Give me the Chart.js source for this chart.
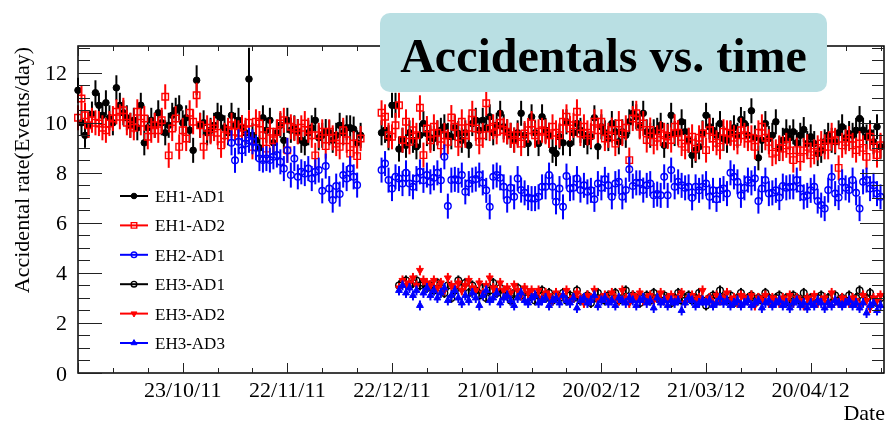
<!DOCTYPE html>
<html>
<head>
<meta charset="utf-8">
<script src="https://cdn.jsdelivr.net/npm/chart.js"></script>
<style>
  html, body { margin: 0; padding: 0; background: #fff; }
  canvas { display: block; }
</style>
</head>
<body>
<canvas id="accChart" width="890" height="423"></canvas>
<script>
// x values are days counted from 23/09/2011 (left edge of the axis)
const seriesNames = ["EH1-AD1", "EH1-AD2", "EH2-AD1", "EH3-AD1", "EH3-AD2", "EH3-AD3"];
const seriesStart = [0, 0, 44, 92, 92, 92];
const seriesErr = [0.5, 0.5, 0.5, 0.2, 0.2, 0.2];
const eh1Ad1ExtraErr = { 34: 0.6, 49: 1.25 };

const xTickDays = [30, 60, 90, 120, 150, 180, 210];
const xTickLabels = ["23/10/11", "22/11/11", "22/12/11", "21/01/12", "20/02/12", "21/03/12", "20/04/12"];
const yTickValues = [0, 2, 4, 6, 8, 10, 12];

const eh1Ad1 = [
  11.3, 10.0, 9.5, 9.9, 10.35, 11.2, 10.7, 10.3, 10.8, 10.2,
  10.0, 11.4, 10.7, 10.4, 10.2, 9.9, 10.1, 9.8, 10.7, 9.2,
  9.8, 10.1, 9.9, 10.4, 10.0, 9.6, 9.9, 10.3, 10.5, 10.6,
  10.0, 10.2, 9.7, 8.9, 11.7, 9.9, 10.0, 9.6, 9.7, 9.9,
  10.3, 10.2, 9.8, 9.6, 10.3, 9.9, 10.1, 9.8, 9.6, 11.75,
  9.5, 9.3, 9.0, 10.2, 9.7, 10.1, 9.2, 9.6, 9.9, 9.3,
  10.1, 9.7, 9.8, 9.65, 9.3, 9.2, 9.6, 9.8, 10.1, 9.4,
  9.5, 9.65, 9.6, 9.3, 9.5, 9.9, 9.6, 9.8, 9.8, 9.75,
  9.2, 9.5, null, null, null, null, null, 9.6, 9.7, 9.4,
  10.7, 10.7, 8.95, 9.3, 9.1, 9.6, 9.3, 9.04, 9.5, 9.97,
  9.57, 9.4, 9.37, 9.6, 9.7, 9.84, 9.5, 9.44, 9.8, 9.57,
  9.3, 9.6, 9.1, 9.97, 10.1, 9.7, 10.1, 9.8, 10.24, 9.6,
  9.9, 10.38, 9.84, 9.64, 9.5, 9.31, 9.6, 10.38, 9.5, 9.17,
  10.24, 9.6, 9.17, 10.24, 9.7, 9.5, 8.9, 8.77, 9.44, 9.2,
  10.04, 9.17, 9.6, 9.97, 9.7, 9.5, 9.24, 9.44, 10.2, 9.04,
  9.84, 9.6, 9.37, 9.97, 9.64, 9.24, 9.64, 9.5, 10.04, 10.38,
  10.24, 9.9, 10.38, 9.64, 9.5, 9.64, 9.7, 9.9, 9.1, 9.5,
  10.3, 9.57, 9.6, 10.04, 9.64, 9.3, 8.7, 8.9, 9.04, 9.6,
  10.3, 9.84, 9.7, 9.5, 9.97, 9.37, 9.3, 9.6, 9.8, 9.5,
  10.13, 9.97, 9.5, 10.48, 9.4, 8.6, 9.3, 9.97, 9.37, 9.5,
  10.04, 8.97, 9.3, 9.64, 9.4, 9.64, 9.2, 9.5, 9.73, 9.17,
  9.44, 9.17, 8.77, 8.9, 9.24, 9.5, 9.3, 9.24, 9.6, 9.84,
  9.4, 9.57, 9.5, 9.7, 10.17, 9.71, 9.44, 9.6, 9.24, 9.84,
  9.04
];

const eh1Ad2 = [
  10.2, 10.97, 10.3, 9.9, 10.1, 10.0, 9.97, 9.8, 9.7, 9.97,
  10.17, 10.44, 10.24, 10.5, 10.0, 9.9, 9.8, 10.44, 10.0, 10.17,
  9.44, 9.7, 9.9, 9.7, 10.1, 11.04, 8.7, 9.77, 10.17, 9.04,
  9.7, 9.37, 10.4, 10.04, 11.1, 9.9, 9.04, 9.8, 9.64, 9.77,
  9.6, 9.1, 9.5, 9.7, 9.9, 9.64, 9.6, 9.8, 9.7, 10.0,
  9.04, 10.04, 9.97, 9.5, 8.97, 9.64, 9.3, 9.64, 9.97, 10.1,
  8.9, 9.84, 9.77, 9.64, 9.8, 9.97, 9.7, 9.5, 8.7, 9.5,
  9.64, 9.07, 9.64, 9.4, 9.17, 9.04, 9.7, 9.3, 8.77, 9.17,
  8.67, 9.37, null, null, null, null, null, 10.4, 10.24, 9.5,
  9.44, 9.9, 10.7, 9.31, 10.04, 9.24, 9.7, 9.5, 10.6, 8.71,
  9.77, 9.3, 9.84, 9.6, 9.1, 9.5, 9.24, 10.21, 9.84, 9.17,
  10.04, 9.5, 9.8, 10.38, 9.77, 9.24, 9.5, 10.78, 9.77, 9.84,
  9.64, 10.0, 9.71, 9.64, 9.5, 9.31, 9.5, 9.17, 9.57, 9.7,
  9.97, 9.5, 9.64, 9.7, 9.64, 9.5, 9.84, 9.6, 9.5, 10.04,
  10.24, 9.77, 9.9, 10.44, 9.57, 9.84, 9.6, 9.5, 10.04, 9.7,
  10.04, 9.37, 9.5, 9.71, 9.17, 9.97, 9.57, 9.8, 8.51, 10.17,
  10.38, 9.84, 9.97, 9.31, 9.71, 9.24, 9.4, 9.57, 9.5, 9.45,
  9.31, 9.84, 9.6, 9.17, 9.04, 9.3, 9.44, 8.97, 9.4, 9.57,
  8.91, 9.7, 9.37, 9.2, 9.04, 9.64, 9.6, 9.57, 9.4, 9.24,
  9.7, 9.5, 9.37, 9.4, 9.04, 9.6, 9.84, 9.4, 9.24, 8.77,
  8.84, 9.0, 8.97, 9.1, 8.9, 8.51, 8.91, 8.58, 8.9, 9.04,
  8.71, 8.84, 9.0, 9.17, 9.04, 9.04, 9.5, 9.3, 8.2, 9.1,
  9.24, 9.37, 9.1, 8.91, 9.17, 9.0, 8.64, 9.44, 9.04, 8.71,
  9.1
];

const eh2Ad1 = [
  9.2, 8.5, 9.24, 8.9, 9.17, 9.3, 9.24, 9.0, 8.57, 8.51,
  8.57, 8.51, 8.64, 8.71, 8.44, 8.17, 8.9, 7.91, 8.57, 7.84,
  8.04, 7.97, 8.17, 7.77, 8.04, 8.11, 7.28, 8.27, 7.37, 6.91,
  7.47, 7.15, 7.91, 7.77, 8.17, 7.84, 7.51, null, null, null,
  null, null, null, 8.11, 8.37, 7.71, 7.37, 7.84, 7.77, 7.57,
  8.0, 7.57, 7.44, 7.77, 8.04, 7.7, 7.91, 7.64, 7.8, 8.0,
  7.7, 8.64, 6.67, 7.71, 7.74, 7.7, 7.91, 7.24, 7.57, 7.71,
  7.75, 7.91, 7.6, 7.3, 6.64, 7.84, 7.91, 7.8, 7.44, 6.91,
  7.4, 7.04, 7.77, 7.31, 7.2, 7.01, 6.97, 6.97, 7.04, 7.44,
  7.44, 7.91, 7.44, 6.84, 7.37, 6.64, 7.87, 7.37, 7.4, 7.77,
  7.31, 7.5, 7.24, 7.3, 6.94, 7.57, 7.4, 7.74, 7.5, 7.04,
  7.57, 7.64, 7.04, 7.31, 8.14, 7.47, 7.6, 7.6, 7.31, 7.5,
  7.57, 7.1, 7.15, 7.1, 7.84, 7.1, 8.11, 7.44, 7.64, 7.5,
  7.4, 7.44, 7.0, 7.44, 7.3, 7.44, 7.57, 7.04, 7.3, 6.94,
  7.3, 7.37, 7.17, 8.0, 7.84, 7.64, 7.1, 7.4, 7.71, 7.6,
  7.77, 6.87, 7.37, 7.71, 7.17, 7.2, 7.3, 7.01, 7.47, 7.4,
  7.44, 7.44, 7.71, 7.37, 7.04, 7.1, 7.3, 7.44, 6.87, 6.71,
  6.57, 7.31, 7.84, 7.17, 7.01, 7.64, 7.4, 7.31, 7.71, 7.2,
  6.57, 7.64, 7.71, 7.37, 7.5, 7.17, 7.04
];

const eh3Ad1 = [
  3.5, 3.6, 3.7, 3.5, 3.6, 3.7, 3.5, 3.6, 3.4,
  3.5, 3.3, 3.6, 3.4, 3.2, 3.5, 3.0, 3.3, 3.7, 3.4,
  3.6, 3.2, 3.5, 3.3, 3.1, 3.4, 3.0, 3.3, 3.6, 3.2,
  3.4, 3.1, 3.3, 2.9, 3.2, 3.4, 3.1, 3.3, 3.0, 3.2,
  2.9, 3.1, 3.3, 3.0, 3.2, 2.9, 3.1, 3.0, 3.2, 2.9,
  3.1, 3.0, 3.3, 2.9, 3.0, 3.1, 2.8, 3.0, 3.2, 3.0,
  2.9, 3.1, 3.0, 3.2, 2.9, 3.0, 3.3, 2.9, 3.1, 3.0,
  2.8, 3.0, 3.1, 2.9, 3.2, 3.0, 2.9, 3.1, 3.0, 2.8,
  3.0, 3.2, 2.9, 3.0, 3.1, 2.9, 3.0, 3.2, 2.9, 2.7,
  3.0, 3.1, 2.9, 3.3, 3.0, 2.9, 3.1, 2.8, 3.0, 3.2,
  2.9, 3.0, 3.1, 2.8, 3.0, 2.9, 3.2, 3.0, 2.8, 3.0,
  3.1, 2.9, 3.0, 2.8, 3.1, 3.0, 2.9, 3.2, 2.9, 3.0,
  2.8, 3.0, 3.1, 2.9, 3.0, 2.8, 3.1, 2.9, 3.0, 2.9,
  3.1, 2.8, 3.0, 3.3, 2.9, 3.0, 3.2, 2.9, 2.8, 3.0
];

const eh3Ad2 = [
  3.4, 3.7, 3.5, 3.6, 3.8, 3.5, 4.1, 3.7, 3.6,
  3.5, 3.7, 3.4, 3.6, 3.3, 3.8, 3.5, 3.4, 3.6, 3.3,
  3.5, 3.7, 3.4, 3.3, 3.6, 3.2, 3.5, 3.8, 3.4, 3.3,
  3.6, 3.3, 3.4, 3.2, 3.5, 3.3, 3.1, 3.4, 3.2, 3.3,
  3.1, 3.3, 3.0, 3.2, 3.1, 2.9, 3.2, 3.0, 3.1, 3.3,
  2.9, 3.0, 3.2, 3.0, 2.8, 3.1, 3.0, 3.3, 2.9, 3.0,
  3.1, 2.9, 3.2, 3.0, 2.9, 3.3, 3.0, 2.8, 3.1, 3.0,
  3.2, 2.9, 3.0, 3.1, 2.9, 3.0, 3.2, 2.9, 3.0, 3.1,
  2.9, 3.0, 3.2, 2.8, 3.0, 3.1, 2.9, 3.0, 3.3, 2.9,
  3.0, 2.8, 3.1, 2.9, 3.0, 3.2, 2.9, 3.0, 2.8, 3.1,
  3.0, 2.9, 3.1, 2.7, 3.0, 2.9, 3.1, 2.8, 3.0, 2.9,
  2.8, 3.0, 2.9, 3.1, 2.8, 3.0, 2.9, 2.7, 3.0, 2.9,
  3.1, 2.8, 2.9, 3.0, 2.8, 3.2, 2.9, 2.8, 3.0, 2.9,
  2.8, 3.0, 2.9, 2.7, 3.1, 2.9, 2.6, 3.0, 2.9, 3.1
];

const eh3Ad3 = [
  3.3, 3.5, 3.2, 3.4, 3.1, 3.3, 2.7, 3.2, 3.4,
  3.1, 3.3, 3.0, 3.2, 3.4, 2.9, 3.1, 3.3, 3.0, 2.8,
  3.1, 2.9, 3.2, 3.0, 2.7, 3.1, 3.3, 2.9, 3.0, 3.2,
  2.8, 3.0, 3.1, 2.9, 2.7, 3.0, 3.2, 2.9, 2.8, 3.0,
  3.1, 2.8, 2.9, 3.0, 2.7, 2.9, 3.0, 2.8, 3.1, 2.9,
  2.8, 3.0, 2.6, 2.9, 3.0, 2.8, 2.9, 3.1, 2.7, 2.9,
  3.0, 2.8, 2.9, 2.7, 3.0, 2.9, 2.8, 3.0, 2.9, 2.7,
  2.9, 3.0, 2.8, 2.9, 2.6, 3.0, 2.8, 2.9, 2.7, 2.9,
  2.8, 2.9, 2.5, 2.8, 3.0, 2.9, 2.7, 2.8, 2.9, 2.8,
  2.9, 2.7, 2.8, 3.0, 2.8, 2.9, 2.7, 2.8, 2.9, 2.7,
  2.8, 2.9, 2.7, 2.8, 2.9, 2.6, 2.8, 2.9, 2.7, 2.8,
  2.9, 2.7, 2.8, 2.6, 2.8, 2.9, 2.7, 2.8, 2.6, 2.8,
  2.7, 2.9, 2.8, 2.6, 2.8, 2.7, 2.9, 2.8, 2.7, 2.8,
  2.9, 2.7, 2.8, 2.6, 2.8, 2.4, 2.7, 2.8, 2.5, 2.7
];

const seriesValues = [eh1Ad1, eh1Ad2, eh2Ad1, eh3Ad1, eh3Ad2, eh3Ad3];
const seriesColor = ["#000000", "#ff0000", "#0000ff", "#000000", "#ff0000", "#0000ff"];
// lower order is drawn on top (later series over earlier ones)
const seriesOrder = [5, 4, 3, 2, 1, 0];
const seriesMarker = [
  { style: "circle", radius: 3.3, filled: true, rotation: 0 },
  { style: "rect", radius: 4.6, filled: false, rotation: 0 },
  { style: "circle", radius: 3.3, filled: false, rotation: 0 },
  { style: "circle", radius: 3.3, filled: false, rotation: 0 },
  { style: "triangle", radius: 4, filled: true, rotation: 180 },
  { style: "triangle", radius: 4, filled: true, rotation: 0 }
];

const serif = "'Liberation Serif', 'Times New Roman', serif";

function toPoints(start, values) {
  const pts = [];
  values.forEach((v, i) => {
    if (v !== null) pts.push({ x: start + i, y: v });
  });
  return pts;
}

const datasets = seriesNames.map((name, i) => ({
  label: name,
  data: toPoints(seriesStart[i], seriesValues[i]),
  showLine: false,
  clip: false,
  order: seriesOrder[i],
  err: seriesErr[i],
  errExtra: i === 0 ? eh1Ad1ExtraErr : null,
  barColor: seriesColor[i],
  pointStyle: seriesMarker[i].style,
  pointRadius: seriesMarker[i].radius,
  pointRotation: seriesMarker[i].rotation,
  pointBackgroundColor: seriesMarker[i].filled ? seriesColor[i] : "rgba(0,0,0,0)",
  pointBorderColor: seriesColor[i],
  pointBorderWidth: seriesMarker[i].filled ? 1 : 1.4,
  pointHoverRadius: seriesMarker[i].radius
}));

function drawMarker(ctx, ds, x, y, scale) {
  ctx.save();
  ctx.fillStyle = ds.pointBackgroundColor;
  ctx.strokeStyle = ds.pointBorderColor;
  ctx.lineWidth = ds.pointBorderWidth;
  Chart.helpers.drawPoint(ctx, {
    pointStyle: ds.pointStyle,
    radius: ds.pointRadius * scale,
    rotation: ds.pointRotation,
    borderWidth: ds.pointBorderWidth
  }, x, y);
  ctx.restore();
}

const rootStyle = {
  id: "rootStyle",
  beforeDatasetDraw(chart, args) {
    // vertical error bars under each series' markers
    const ds = chart.data.datasets[args.index];
    const ctx = chart.ctx;
    const yScale = chart.scales.y;
    ctx.save();
    ctx.strokeStyle = ds.barColor;
    ctx.lineWidth = 2;
    args.meta.data.forEach((pt, i) => {
      const raw = ds.data[i];
      const e = (ds.errExtra && ds.errExtra[raw.x]) || ds.err;
      ctx.beginPath();
      ctx.moveTo(pt.x, yScale.getPixelForValue(raw.y + e));
      ctx.lineTo(pt.x, yScale.getPixelForValue(raw.y - e));
      ctx.stroke();
    });
    ctx.restore();
  },
  afterDraw(chart) {
    const ctx = chart.ctx;
    const area = chart.chartArea;
    const xs = chart.scales.x;
    const ys = chart.scales.y;

    // frame
    ctx.save();
    ctx.strokeStyle = "#000";
    ctx.lineWidth = 1.5;
    ctx.strokeRect(area.left, area.top, area.right - area.left, area.bottom - area.top);

    // ticks pointing inwards, on all four sides
    ctx.lineWidth = 1;
    ctx.strokeStyle = "#222";
    xs.ticks.forEach(t => {
      if (Math.abs(t.value % 10) > 1e-6) return;
      const px = Math.round(xs.getPixelForValue(t.value)) + 0.5;
      const len = t.value % 30 === 0 ? 10 : 5;
      ctx.beginPath();
      ctx.moveTo(px, area.bottom); ctx.lineTo(px, area.bottom - len);
      ctx.moveTo(px, area.top); ctx.lineTo(px, area.top + len);
      ctx.stroke();
    });
    ys.ticks.forEach(t => {
      const q = t.value / 0.5;
      if (Math.abs(q - Math.round(q)) > 1e-6) return;
      const py = Math.round(ys.getPixelForValue(t.value)) + 0.5;
      const len = Math.round(t.value * 10) % 20 === 0 ? 24 : 12;
      ctx.beginPath();
      ctx.moveTo(area.left, py); ctx.lineTo(area.left + len, py);
      ctx.moveTo(area.right, py); ctx.lineTo(area.right - len, py);
      ctx.stroke();
    });

    // tick labels
    ctx.fillStyle = "#000";
    ctx.font = "22px " + serif;
    ctx.textBaseline = "alphabetic";
    ctx.textAlign = "right";
    yTickValues.forEach(v => {
      ctx.fillText(String(v), area.left - 11, ys.getPixelForValue(v) + 7.5);
    });
    ctx.textAlign = "center";
    xTickDays.forEach((d, i) => {
      ctx.fillText(xTickLabels[i], xs.getPixelForValue(d), 397);
    });

    // axis titles
    ctx.textAlign = "right";
    ctx.fillText("Date", area.right + 1, 420);
    ctx.save();
    ctx.translate(28.5, area.top + 1);
    ctx.rotate(-Math.PI / 2);
    ctx.fillText("Accidental rate(Events/day)", 0, 0);
    ctx.restore();

    // legend
    const rowY0 = 196, rowStep = 29.4;
    ctx.font = "17px " + serif;
    ctx.textAlign = "left";
    chart.data.datasets.forEach((ds, i) => {
      const y = rowY0 + i * rowStep;
      ctx.strokeStyle = ds.barColor;
      ctx.lineWidth = 2;
      ctx.beginPath();
      ctx.moveTo(120, y); ctx.lineTo(148, y);
      ctx.stroke();
      drawMarker(ctx, ds, 134, y, 0.85);
      ctx.fillStyle = "#000";
      ctx.fillText(ds.label, 155, y + 6);
    });

    // title box
    ctx.fillStyle = "#b9dfe3";
    ctx.beginPath();
    ctx.roundRect(380, 13, 447, 79, 10);
    ctx.fill();
    ctx.fillStyle = "#000";
    ctx.font = "bold 48px " + serif;
    ctx.textAlign = "center";
    ctx.fillText("Accidentals vs. time", 603.5, 72);
    ctx.restore();
  }
};

new Chart(document.getElementById("accChart").getContext("2d"), {
  type: "scatter",
  data: { datasets: datasets },
  options: {
    responsive: false,
    animation: false,
    devicePixelRatio: 1,
    layout: { padding: { left: 0, top: 46, right: 4, bottom: 0 } },
    plugins: {
      legend: { display: false },
      tooltip: { enabled: false }
    },
    scales: {
      x: {
        type: "linear",
        min: 0,
        max: 231,
        ticks: { display: false, stepSize: 10, includeBounds: false, autoSkip: false },
        grid: { display: false },
        border: { display: false },
        afterFit: s => { s.height = 50; }
      },
      y: {
        type: "linear",
        min: 0,
        max: 13.07,
        ticks: { display: false, stepSize: 0.5, includeBounds: false, autoSkip: false },
        grid: { display: false },
        border: { display: false },
        afterFit: s => { s.width = 78; }
      }
    }
  },
  plugins: [rootStyle]
});
</script>
</body>
</html>
